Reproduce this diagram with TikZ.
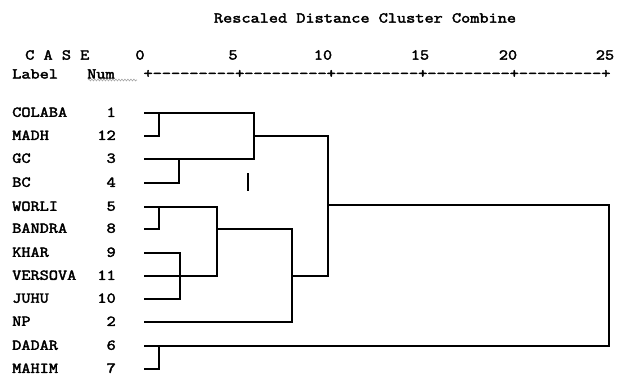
\documentclass[tikz,border=0pt]{standalone}
\usepackage{fontspec}
\newfontfamily\cour{Latin Modern Mono}[Ligatures=TeXOff,FakeBold=2.4]
\usetikzlibrary{decorations.pathmorphing}
\begin{document}
\begin{tikzpicture}[x=1pt,y=-1pt,
  txt/.style={inner sep=0pt,xscale=1.185,font=\fontsize{15}{15}\selectfont\cour},
  lab/.style={txt,anchor=west},
  num/.style={txt,anchor=east},
  dend/.style={line width=1.4pt,line cap=rect,line join=miter}]
\useasboundingbox (0,0) rectangle (618,376);
\fill[white] (0,0) rectangle (618,376);
% header
\node[txt] (title) at (365,18) {Rescaled Distance Cluster Combine};
\node[lab] (case) at (25,55) {C A S E};
\node[lab] (label) at (12,74) {Label};
\node[lab] (num) at (87,74) {Num};
\draw[gray!70,line width=0.6pt,decorate,decoration={snake,amplitude=0.9pt,segment length=3pt}] (88,80) -- (137,80);
\foreach \v/\x in {0/140,5/233,10/323,15/420,20/508,25/605}
  \node[txt] (t\v) at (\x,55) {\v};
\node[txt] (ruler) at (377,74) {+---------+---------+---------+---------+---------+};
% rows
\foreach \n/\k/\y in {COLABA/1/113,MADH/12/136,GC/3/159,BC/4/183,WORLI/5/207,BANDRA/8/229,KHAR/9/253,VERSOVA/11/276,JUHU/10/299,NP/2/322,DADAR/6/346,MAHIM/7/369}{
  \node[lab] (L\k) at (12,\y-0.8) {\n};
  \node[num] (N\k) at (116,\y-0.8) {\k};
  \coordinate (c\k) at (145,\y);
}
% dendrogram
\draw[dend] (c1) -| (254,159) -- (c3);
\draw[dend] (c12) -| (159,113);
\draw[dend] (c4) -| (179,159);
\draw[dend] (254,136) -- (328,136);
\draw[dend] (c5) -| (217,276) -- (c11);
\draw[dend] (c8) -| (159,207);
\draw[dend] (c9) -| (180,299) -- (c10);
\draw[dend] (217,229) -| (292,322) -- (c2);
\draw[dend] (292,276) -| (328,136);
\draw[dend] (328,205) -| (609,346) -- (c6);
\draw[dend] (c7) -| (159,346);
\draw[line width=2.2pt] (248,173) -- (248,191);
\end{tikzpicture}
\end{document}
